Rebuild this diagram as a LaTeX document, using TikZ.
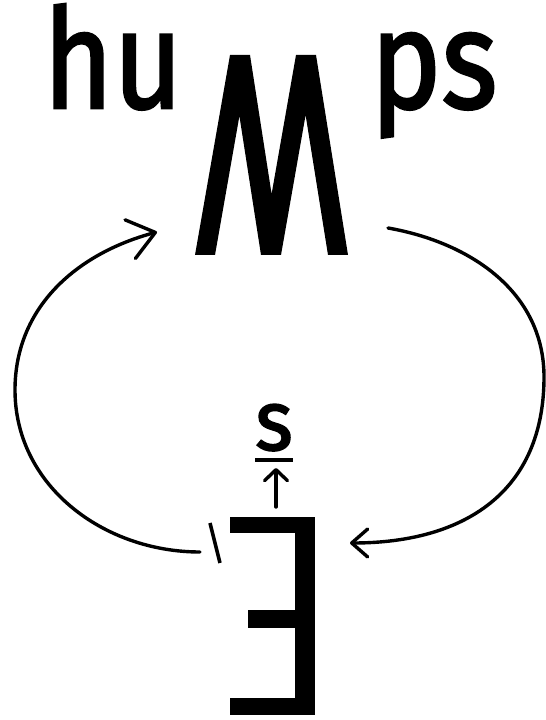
\documentclass[tikz,border=0pt]{standalone}
\usepackage{fontspec}
\setmainfont{Fira Sans}
\newfontfamily\humpsfont{Fira Sans}[FakeBold=2]
\usetikzlibrary{arrows.meta}
\tikzset{
  loop/.style={line width=3.4pt, line cap=round},
  word/.style={inner sep=0pt, anchor=base, xscale=0.86, font=\humpsfont\fontsize{139}{139}\selectfont},
}
\begin{document}
\begin{tikzpicture}[x=1pt, y=1pt]
    \useasboundingbox (0,0) rectangle (546,720);
    \node[word] (hu) at (113,612) {hu};
    \node[word] (ps) at (434,612) {ps};
    \node[word, xscale=1.1, font=\humpsfont\fontsize{85}{85}\selectfont] (s) at (274,270) {s};
    \fill (195,465) -- (230,665) -- (250,665) -- (271.6,526) -- (296,665) -- (316,665) -- (348,465) -- (328,465)
        -- (305.6,605) -- (281,465) -- (261,465) -- (239.4,604) -- (215,465) -- cycle;
    \fill (230,187) rectangle (315,203);
    \fill (295,5) rectangle (315,203);
    \fill (248,92) rectangle (315,110);
    \fill (230,5) rectangle (315,22);
    \coordinate (Lend) at (200,168);
    \coordinate (Lside) at (15,330);
    \coordinate (Ltip) at (157,488);
    \coordinate (Rstart) at (388,492);
    \coordinate (Rside) at (544,343);
    \coordinate (Rtip) at (350,177);
    \coordinate (sfoot) at (276,213);
    \coordinate (stip) at (276,252);
    \draw[loop, -{Straight Barb[length=26pt, width=40pt, round]}] (Lend) to[out=180, in=-90] (Lside) to[out=90, in=195] (Ltip);
    \draw[loop, -{Straight Barb[length=16pt, width=28pt, round]}] (Rstart) to[out=-10, in=90] (Rside) to[out=-90, in=0, looseness=1.15] (Rtip);
    \draw[loop, -{Straight Barb[length=11pt, width=23pt, round]}] (sfoot) -- (stip);
    \draw[line width=3.6pt] (255,260) -- (293,260);
    \draw[line width=3.6pt] (210,197) -- (220,157);
\end{tikzpicture}
\end{document}
